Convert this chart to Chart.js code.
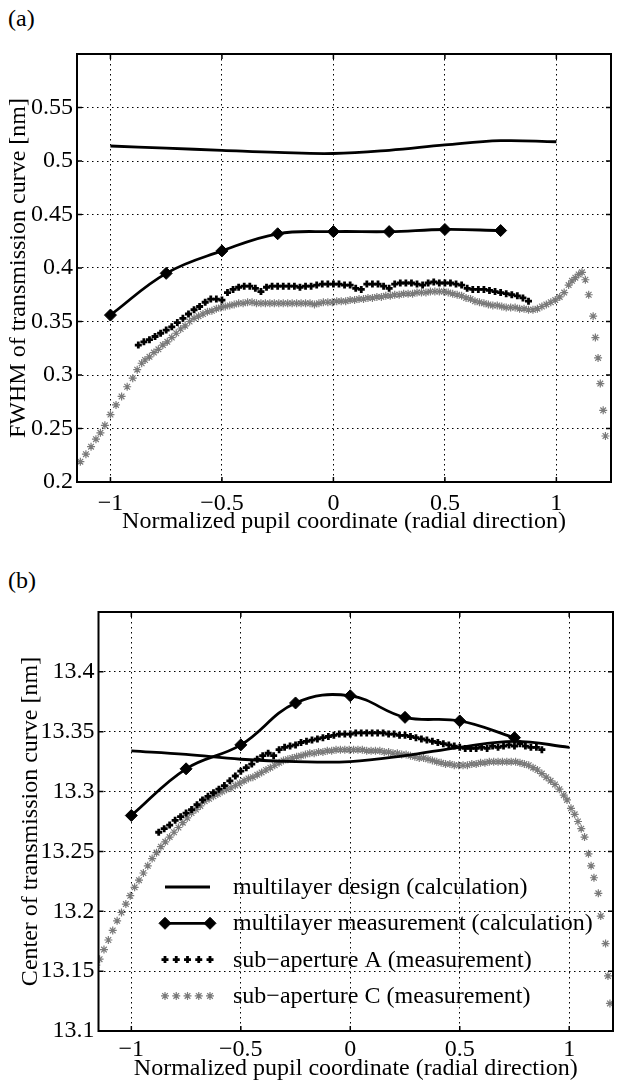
<!DOCTYPE html>
<html>
<head>
<meta charset="utf-8">
<script src="https://cdn.jsdelivr.net/npm/chart.js@4.4.1/dist/chart.umd.min.js"></script>
<style>
  html, body { margin: 0; padding: 0; background: #fff; overflow: hidden; width: 618px; height: 1082px; }
  .panel { position: absolute; left: 0; }
  .tag { position: absolute; left: 8px; font: 24px/24px "Liberation Serif", "Times New Roman", serif; color: #000; }
</style>
</head>
<body>
<div class="tag" style="top:6px">(a)</div>
<div class="panel" style="top:0px"><canvas id="fwhmChart" width="618" height="540"></canvas></div>
<div class="tag" style="top:568px">(b)</div>
<div class="panel" style="top:560px"><canvas id="centerChart" width="620" height="522"></canvas></div>
<script>
// tick positions
const xTicks = [-1, -0.5, 0, 0.5, 1];
const fwhmTicks = [0.2, 0.25, 0.3, 0.35, 0.4, 0.45, 0.5, 0.55];
const centerTicks = [13.1, 13.15, 13.2, 13.25, 13.3, 13.35, 13.4];

// calculated curves
const designX = [-1, -0.75, -0.5, -0.25, 0, 0.25, 0.5, 0.75, 1];
const measX = [-1, -0.75, -0.5, -0.25, 0, 0.25, 0.5, 0.75];
const fwhmDesign = [0.514, 0.512, 0.510, 0.508, 0.507, 0.510, 0.515, 0.519, 0.518];
const fwhmMeas = [0.356, 0.395, 0.416, 0.432, 0.434, 0.434, 0.436, 0.435];
const centerDesign = [13.334, 13.331, 13.327, 13.325, 13.325, 13.330, 13.337, 13.342, 13.337];
const centerMeas = [13.280, 13.319, 13.339, 13.374, 13.380, 13.362, 13.359, 13.345];

// sub-aperture A (both panels share the sample positions)
const apAX = [-0.875, -0.85, -0.825, -0.8, -0.775, -0.75, -0.725, -0.7, -0.675, -0.65,
  -0.625, -0.6, -0.575, -0.55, -0.525, -0.5, -0.475, -0.45, -0.425, -0.4,
  -0.375, -0.35, -0.325, -0.3, -0.275, -0.25, -0.225, -0.2, -0.175, -0.15,
  -0.125, -0.1, -0.075, -0.05, -0.025, 0, 0.025, 0.05, 0.075, 0.1,
  0.125, 0.15, 0.175, 0.2, 0.225, 0.25, 0.275, 0.3, 0.325, 0.35,
  0.375, 0.4, 0.425, 0.45, 0.475, 0.5, 0.525, 0.55, 0.575, 0.6,
  0.625, 0.65, 0.675, 0.7, 0.725, 0.75, 0.775, 0.8, 0.825, 0.85, 0.875];
const fwhmApA = [0.328, 0.331, 0.333, 0.336, 0.339, 0.342, 0.345, 0.349, 0.353, 0.357,
  0.361, 0.364, 0.368, 0.371, 0.371, 0.370, 0.377, 0.380, 0.382, 0.383,
  0.383, 0.381, 0.378, 0.382, 0.383, 0.383, 0.383, 0.383, 0.383, 0.382,
  0.383, 0.383, 0.384, 0.385, 0.385, 0.385, 0.385, 0.384, 0.384, 0.381,
  0.380, 0.385, 0.385, 0.385, 0.383, 0.381, 0.385, 0.386, 0.386, 0.386,
  0.385, 0.384, 0.386, 0.387, 0.386, 0.386, 0.386, 0.385, 0.384, 0.381,
  0.380, 0.380, 0.380, 0.379, 0.378, 0.377, 0.376, 0.375, 0.374, 0.372, 0.369];
const centerApA = [13.266, 13.269, 13.272, 13.276, 13.279, 13.282, 13.285, 13.289, 13.293, 13.296,
  13.299, 13.302, 13.305, 13.309, 13.313, 13.317, 13.320, 13.323, 13.327, 13.330,
  13.332, 13.330, 13.335, 13.337, 13.338, 13.339, 13.341, 13.342, 13.343, 13.344,
  13.345, 13.346, 13.347, 13.348, 13.348, 13.348, 13.349, 13.349, 13.349, 13.349,
  13.349, 13.349, 13.348, 13.348, 13.347, 13.347, 13.346, 13.345, 13.344, 13.343,
  13.342, 13.341, 13.340, 13.339, 13.338, 13.337, 13.336, 13.336, 13.336, 13.337,
  13.336, 13.338, 13.337, 13.338, 13.339, 13.338, 13.340, 13.338, 13.337, 13.337, 13.335];

// sub-aperture C, panel (a)
const fwhmApCX = [-1.135, -1.11, -1.087, -1.065, -1.045, -1.025, -1.0, -0.975, -0.95, -0.925, -0.9, -0.88, -0.86,
  -0.845, -0.825, -0.805, -0.785, -0.765, -0.745, -0.725, -0.705, -0.685, -0.665,
  -0.645, -0.625, -0.605, -0.585, -0.565, -0.545, -0.525, -0.505, -0.485, -0.465,
  -0.445, -0.425, -0.405, -0.385, -0.365, -0.345, -0.325, -0.305, -0.285, -0.265,
  -0.245, -0.225, -0.205, -0.185, -0.165, -0.145, -0.125, -0.105, -0.085, -0.065,
  -0.045, -0.025, -0.005, 0.015, 0.035, 0.055, 0.075, 0.095, 0.115, 0.135,
  0.155, 0.175, 0.195, 0.215, 0.235, 0.255, 0.275, 0.295, 0.315, 0.335,
  0.355, 0.375, 0.395, 0.415, 0.435, 0.455, 0.475, 0.495, 0.515, 0.535,
  0.555, 0.575, 0.595, 0.615, 0.635, 0.655, 0.675, 0.695, 0.715, 0.735,
  0.755, 0.775, 0.795, 0.815, 0.835, 0.855, 0.875, 0.895, 0.915, 0.935,
  0.955, 0.975, 0.995, 1.015,
  1.035, 1.055, 1.07, 1.085, 1.1, 1.115, 1.13, 1.145, 1.165, 1.175, 1.187, 1.197, 1.21, 1.22];
const fwhmApC = [0.219, 0.226, 0.233, 0.240, 0.246, 0.253, 0.263, 0.272, 0.280, 0.289, 0.297, 0.305, 0.311,
  0.314, 0.317, 0.321, 0.324, 0.328, 0.331, 0.335, 0.339, 0.343, 0.346,
  0.350, 0.353, 0.355, 0.357, 0.359, 0.360, 0.362, 0.363, 0.364, 0.365,
  0.366, 0.367, 0.367, 0.368, 0.368, 0.367, 0.367, 0.367, 0.367, 0.367,
  0.367, 0.367, 0.367, 0.367, 0.367, 0.367, 0.367, 0.367, 0.366, 0.367,
  0.368, 0.368, 0.368, 0.369, 0.369, 0.369, 0.370, 0.370, 0.371, 0.371,
  0.372, 0.372, 0.373, 0.373, 0.374, 0.374, 0.375, 0.375, 0.376, 0.376,
  0.376, 0.377, 0.377, 0.377, 0.378, 0.378, 0.378, 0.378, 0.377, 0.376,
  0.375, 0.374, 0.372, 0.371, 0.369, 0.368, 0.367, 0.366, 0.365, 0.365,
  0.364, 0.363, 0.363, 0.363, 0.362, 0.362, 0.361, 0.361, 0.362, 0.364,
  0.366, 0.368, 0.370, 0.373,
  0.377, 0.384, 0.388, 0.391, 0.394, 0.396, 0.389, 0.375, 0.355, 0.335, 0.316, 0.292, 0.267, 0.243];

// sub-aperture C, panel (b)
const centerApCX = [-1.16, -1.145, -1.125, -1.105, -1.085, -1.065, -1.045, -1.025, -1.005, -0.985, -0.965, -0.945, -0.925, -0.905, -0.885, -0.865,
  -0.845, -0.825, -0.805, -0.785, -0.765, -0.745, -0.725, -0.705, -0.685, -0.665,
  -0.645, -0.625, -0.605, -0.585, -0.565, -0.545, -0.525, -0.505, -0.485, -0.465,
  -0.445, -0.425, -0.405, -0.385, -0.365, -0.345, -0.325, -0.305, -0.285, -0.265,
  -0.245, -0.225, -0.205, -0.185, -0.165, -0.145, -0.125, -0.105, -0.085, -0.065,
  -0.045, -0.025, -0.005, 0.015, 0.035, 0.055, 0.075, 0.095, 0.115, 0.135,
  0.155, 0.175, 0.195, 0.215, 0.235, 0.255, 0.275, 0.295, 0.315, 0.335,
  0.355, 0.375, 0.395, 0.415, 0.435, 0.455, 0.475, 0.495, 0.515, 0.535,
  0.555, 0.575, 0.595, 0.615, 0.635, 0.655, 0.675, 0.695, 0.715, 0.735,
  0.755, 0.775, 0.795, 0.815, 0.835, 0.855, 0.875, 0.895, 0.915, 0.935,
  0.955, 0.975,
  0.99, 1.008, 1.025, 1.04, 1.055, 1.07, 1.088, 1.1, 1.113, 1.133, 1.144, 1.166, 1.177, 1.186];
const centerApC = [13.155, 13.160, 13.168, 13.176, 13.184, 13.192, 13.199, 13.206, 13.213, 13.220, 13.226, 13.232, 13.238, 13.244, 13.249, 13.254,
  13.258, 13.262, 13.266, 13.270, 13.274, 13.278, 13.282, 13.285, 13.288, 13.292,
  13.294, 13.296, 13.298, 13.300, 13.302, 13.303, 13.305, 13.307, 13.309, 13.311,
  13.312, 13.314, 13.316, 13.318, 13.320, 13.322, 13.324, 13.326, 13.327, 13.328,
  13.329, 13.330, 13.331, 13.332, 13.332, 13.333, 13.333, 13.334, 13.334, 13.335,
  13.335, 13.335, 13.335, 13.335, 13.335, 13.335, 13.334, 13.334, 13.334, 13.334,
  13.333, 13.333, 13.332, 13.332, 13.331, 13.331, 13.330, 13.329, 13.328, 13.328,
  13.327, 13.326, 13.325, 13.324, 13.323, 13.323, 13.322, 13.322, 13.322, 13.322,
  13.323, 13.323, 13.324, 13.324, 13.325, 13.325, 13.325, 13.325, 13.325, 13.325,
  13.325, 13.324, 13.323, 13.322, 13.320, 13.318, 13.315, 13.312, 13.309, 13.306,
  13.302, 13.297,
  13.293, 13.286, 13.281, 13.275, 13.269, 13.262, 13.248, 13.238, 13.228, 13.215, 13.196, 13.173, 13.146, 13.123];

const FONT = '"Liberation Serif", "Times New Roman", serif';
Chart.defaults.font.family = FONT;
Chart.defaults.color = '#000';

function pairs(xs, ys) {
    return xs.map((x, i) => ({ x: x, y: ys[i] }));
}

function minusSign(v) {
    const s = String(+Number(v).toFixed(2));
    return v < 0 ? '\u2212' + s.slice(1) : s;
}

// Box frame with inward tick marks on all four sides, drawn above the data
const boxFrame = {
    id: 'boxFrame',
    afterDatasetsDraw(chart) {
        const { ctx, chartArea: a, scales } = chart;
        const len = 5;
        ctx.save();
        ctx.strokeStyle = '#000';
        ctx.lineWidth = 1.5;
        ctx.beginPath();
        scales.x.ticks.forEach(t => {
            const px = scales.x.getPixelForValue(t.value);
            ctx.moveTo(px, a.bottom); ctx.lineTo(px, a.bottom - len);
            ctx.moveTo(px, a.top); ctx.lineTo(px, a.top + len);
        });
        scales.y.ticks.forEach(t => {
            const py = scales.y.getPixelForValue(t.value);
            ctx.moveTo(a.left, py); ctx.lineTo(a.left + len, py);
            ctx.moveTo(a.right, py); ctx.lineTo(a.right - len, py);
        });
        ctx.stroke();
        ctx.lineWidth = 2;
        ctx.strokeRect(a.left, a.top, a.right - a.left, a.bottom - a.top);
        ctx.restore();
    }
};

// Legend drawn inside the plot, no box, transparent
const insideLegend = {
    id: 'insideLegend',
    afterDraw(chart, args, opts) {
        if (!opts.display) return;
        const { ctx, chartArea: a } = chart;
        ctx.save();
        chart.data.datasets.forEach((ds, i) => {
            const y = a.top + opts.top + i * opts.rowGap;
            const x0 = a.left + opts.left;
            const x1 = x0 + opts.sampleWidth;
            ctx.strokeStyle = ds.borderColor;
            ctx.fillStyle = ds.backgroundColor || ds.borderColor;
            if (ds.showLine !== false) {
                ctx.lineWidth = ds.borderWidth;
                ctx.beginPath();
                ctx.moveTo(x0, y);
                ctx.lineTo(x1, y);
                ctx.stroke();
            }
            if (ds.pointRadius > 0) {
                const n = ds.showLine === false ? 5 : 2;
                ctx.lineWidth = ds.pointBorderWidth;
                for (let k = 0; k < n; k++) {
                    const px = x0 + k * (x1 - x0) / (n - 1);
                    Chart.helpers.drawPoint(ctx, {
                        pointStyle: ds.pointStyle, radius: ds.pointRadius,
                        rotation: 0, borderWidth: ds.pointBorderWidth
                    }, px, y);
                }
            }
            ctx.fillStyle = '#000';
            ctx.font = opts.fontSize + 'px ' + FONT;
            ctx.textAlign = 'left';
            ctx.textBaseline = 'alphabetic';
            ctx.fillText(ds.label, x1 + opts.textGap, y + opts.baselineShift);
        });
        ctx.restore();
    }
};

function buildDatasets(design, meas, apA, apCX, apC) {
    return [{
        label: 'multilayer design (calculation)',
        data: pairs(designX, design),
        borderColor: '#000',
        backgroundColor: '#000',
        borderWidth: 2.8,
        pointRadius: 0,
        tension: 0.4
    }, {
        label: 'multilayer measurement (calculation)',
        data: pairs(measX, meas),
        borderColor: '#000',
        backgroundColor: '#000',
        borderWidth: 2.8,
        pointStyle: 'rectRot',
        pointRadius: 6,
        pointBorderWidth: 1,
        tension: 0.4
    }, {
        label: 'sub\u2212aperture A (measurement)',
        data: pairs(apAX, apA),
        showLine: false,
        borderColor: '#000',
        backgroundColor: '#000',
        pointStyle: 'cross',
        pointRadius: 3.5,
        pointBorderWidth: 2.8
    }, {
        label: 'sub\u2212aperture C (measurement)',
        data: pairs(apCX, apC),
        showLine: false,
        borderColor: '#7a7a7a',
        backgroundColor: '#7a7a7a',
        pointStyle: 'star',
        pointRadius: 4,
        pointBorderWidth: 1.2
    }];
}

function buildScales(o) {
    const gridStyle = { color: '#000', lineWidth: 1, drawTicks: false };
    const borderStyle = { display: false, dash: [1.5, 3.5] };
    return {
        x: {
            type: 'linear',
            min: o.xMin,
            max: o.xMax,
            afterBuildTicks: s => { s.ticks = xTicks.map(v => ({ value: v })); },
            afterFit: s => { s.height = o.xHeight; },
            grid: gridStyle,
            border: borderStyle,
            ticks: { padding: o.xTickPad, autoSkip: false, maxRotation: 0, font: { size: 24 }, callback: v => minusSign(v) },
            title: {
                display: true,
                text: 'Normalized pupil coordinate (radial direction)',
                font: { size: 24, lineHeight: 1 },
                padding: { top: 0, bottom: o.xTitlePad }
            }
        },
        y: {
            type: 'linear',
            min: o.yMin,
            max: o.yMax,
            afterBuildTicks: s => { s.ticks = o.yTicks.map(v => ({ value: v })); },
            afterFit: s => { s.width = o.yWidth; },
            grid: gridStyle,
            border: borderStyle,
            ticks: { padding: 4, autoSkip: false, font: { size: 24 }, callback: v => minusSign(v) },
            title: {
                display: true,
                text: o.yTitle,
                font: { size: 24, lineHeight: 1 },
                padding: { top: o.yTitlePad, bottom: 0 }
            }
        }
    };
}

function renderPanel(id, datasets, scaleOpts, padding, legendOpts) {
    const ctx = document.getElementById(id).getContext('2d');
    new Chart(ctx, {
        type: 'line',
        data: { datasets: datasets },
        options: {
            responsive: false,
            animation: false,
            events: [],
            layout: { padding: padding },
            plugins: {
                legend: { display: false },
                tooltip: { enabled: false },
                insideLegend: legendOpts
            },
            scales: buildScales(scaleOpts)
        },
        plugins: [boxFrame, insideLegend]
    });
}

renderPanel('fwhmChart',
    buildDatasets(fwhmDesign, fwhmMeas, fwhmApA, fwhmApCX, fwhmApC),
    { xMin: -1.15, xMax: 1.245, xHeight: 58, xTickPad: 7, xTitlePad: 6,
      yMin: 0.2, yMax: 0.6, yTicks: fwhmTicks, yWidth: 77, yTitlePad: 7,
      yTitle: 'FWHM of transmission curve [nm]' },
    { top: 54, right: 1, bottom: 0, left: 0 },
    { display: false });

renderPanel('centerChart',
    buildDatasets(centerDesign, centerMeas, centerApA, centerApCX, centerApC),
    { xMin: -1.15, xMax: 1.2, xHeight: 51, xTickPad: 4, xTitlePad: 1,
      yMin: 13.1, yMax: 13.45, yTicks: centerTicks, yWidth: 98.5, yTitlePad: 19,
      yTitle: 'Center of transmission curve [nm]' },
    { top: 52, right: 0.8, bottom: 0, left: 0 },
    { display: true, left: 66.5, top: 275, rowGap: 36.3, sampleWidth: 45,
      textGap: 23, baselineShift: 7, fontSize: 24 });
</script>
</body>
</html>
